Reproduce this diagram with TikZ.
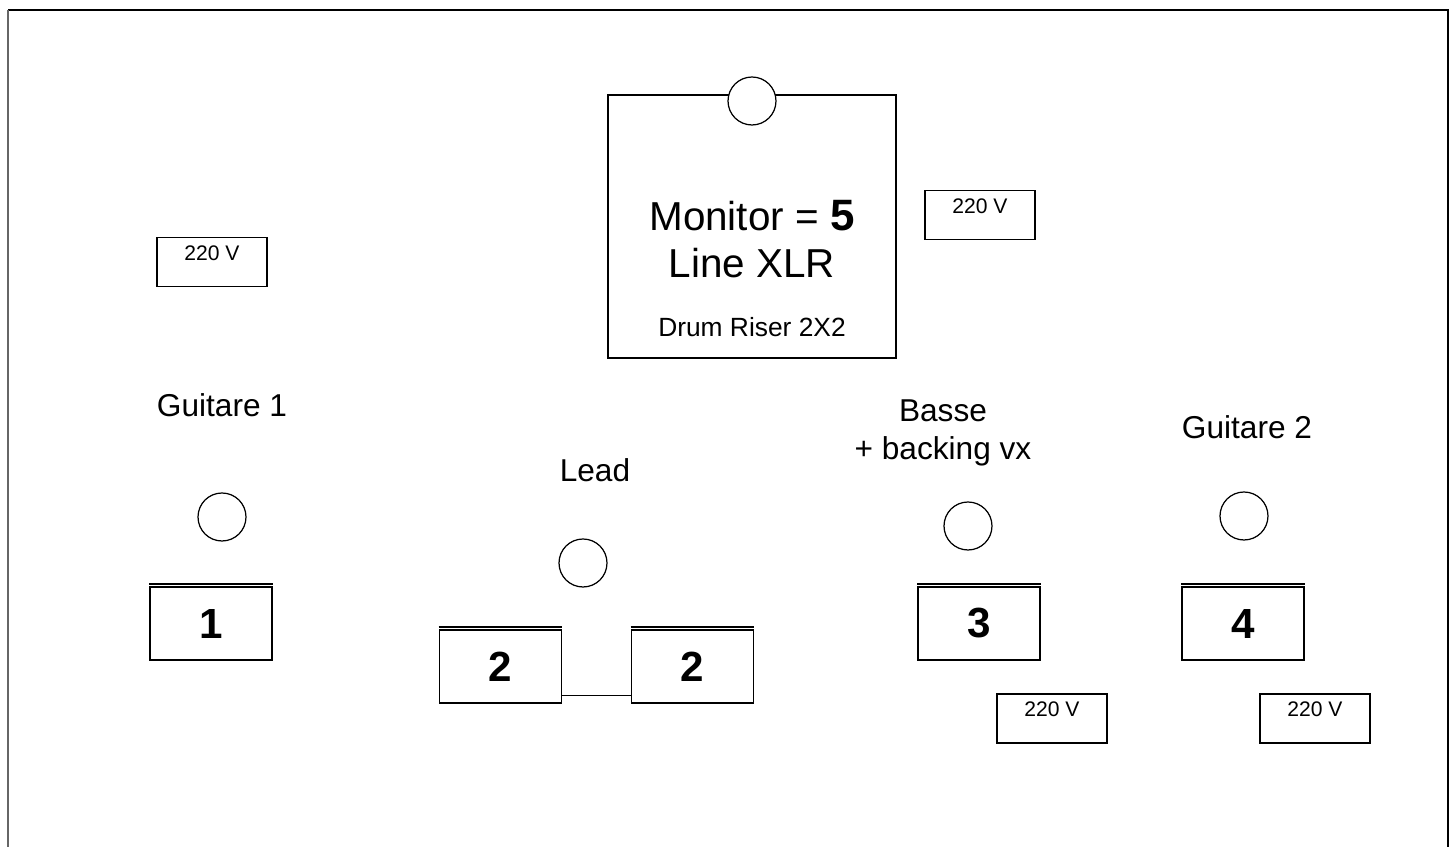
\documentclass[tikz,border=0pt]{standalone}
\usepackage{fontspec}
\setmainfont{Liberation Sans}
\tikzset{
  wedge/.style={draw, line width=0.9pt, minimum width=2.44cm, minimum height=1.46cm, inner sep=0pt, font=\bfseries\fontsize{24}{28}\selectfont},
  mic/.style={circle, draw, line width=0.7pt, fill=white, minimum size=0.96cm, inner sep=0pt},
  power/.style={draw, line width=0.7pt, minimum width=2.2cm, inner sep=0pt, text height=0.46cm, text depth=0.52cm, font=\fontsize{12}{14}\selectfont},
  lbl/.style={font=\fontsize{18}{21.5}\selectfont, align=center}
}
\begin{document}
\begin{tikzpicture}[x=0.02cm, y=-0.02cm]
\useasboundingbox (0,0) rectangle (1455,847);
% stage outline
\draw[line width=1.2pt] (8,10) -- (1448,10) -- (1448,847);
\draw[line width=1.6pt, gray!80!black] (8,10) -- (8,847);

% drum riser
\node[draw, line width=0.7pt, minimum width=5.76cm, minimum height=5.26cm] (riser) at (752,226.5){};
\node[mic] (mic5) at (752,101){};
\node[font=\fontsize{23}{27}\selectfont] (mon5) at (752,216){Monitor = \textbf{\fontsize{25}{28}\selectfont 5}};
\node[font=\fontsize{23}{27}\selectfont] (xlr) at (752,263){Line XLR};
\node[font=\fontsize{15}{18}\selectfont] (drum) at (752,327){Drum Riser 2X2};

% power
\node[power] (pw1) at (212,262){220 V};
\node[power] (pw2) at (980,215){220 V};
\node[power] (pw3) at (1052,718.5){220 V};
\node[power] (pw4) at (1315,718.5){220 V};

% labels
\node[lbl] (gtr1) at (222,405){Guitare 1};
\node[lbl] (lead) at (595,470){Lead};
\node[lbl] (bass) at (943,433){Basse\\+ backing vx};
\node[lbl] (gtr2) at (1247,427){Guitare 2};

% mics
\node[mic] (mic1) at (222,517){};
\node[mic] (mic2) at (583,563){};
\node[mic] (mic3) at (968,526){};
\node[mic] (mic4) at (1244,516){};

% wedges
\node[wedge] (w1) at (211,623.5){1};
\node[wedge] (w2a) at (500.5,666.5){2};
\node[wedge] (w2b) at (692.5,666.5){2};
\node[wedge] (w3) at (979,623.5){3};
\node[wedge] (w4) at (1243,623.5){4};
\draw[line width=0.9pt] ([yshift=0.05cm]w1.north west) -- ([yshift=0.05cm]w1.north east);
\draw[line width=0.9pt] ([yshift=0.05cm]w2a.north west) -- ([yshift=0.05cm]w2a.north east);
\draw[line width=0.9pt] ([yshift=0.05cm]w2b.north west) -- ([yshift=0.05cm]w2b.north east);
\draw[line width=0.9pt] ([yshift=0.05cm]w3.north west) -- ([yshift=0.05cm]w3.north east);
\draw[line width=0.9pt] ([yshift=0.05cm]w4.north west) -- ([yshift=0.05cm]w4.north east);
\draw[line width=0.7pt] ([yshift=0.16cm]w2a.south east) -- ([yshift=0.16cm]w2b.south west);

\end{tikzpicture}
\end{document}
